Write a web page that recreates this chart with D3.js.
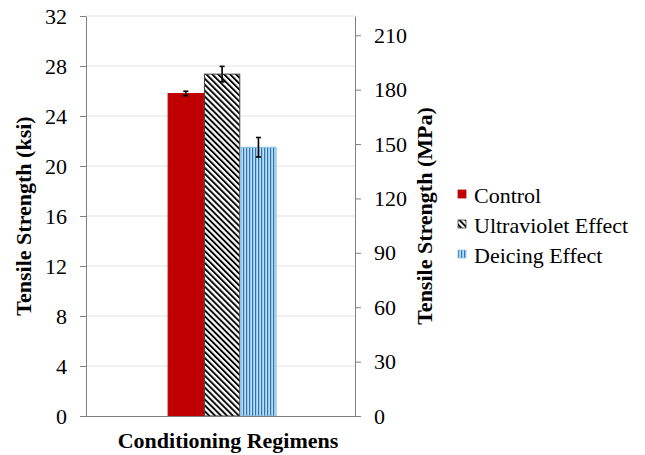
<!DOCTYPE html>
<html><head><meta charset="utf-8">
<script src="https://cdn.jsdelivr.net/npm/d3@7"></script>
<style>body{margin:0;background:#fff}svg{display:block}</style>
</head><body>
<script>
const categories = ["Conditioning Regimens"];
const series = ["Control", "Ultraviolet Effect", "Deicing Effect"];
const values = [25.8, 27.35, 21.5];
const errors = [0.18, 0.62, 0.78];
const leftTicks = [0, 4, 8, 12, 16, 20, 24, 28, 32];
const rightTicks = [0, 30, 60, 90, 120, 150, 180, 210];
const ksiToMpa = 6.89476;

const W = 645, H = 455;
const m = {left: 86, right: 355, top: 16, bottom: 416};
const svg = d3.select("body").append("svg").attr("width", W).attr("height", H);
const defs = svg.append("defs");

const hatch = defs.append("pattern").attr("id", "hatch").attr("patternUnits", "userSpaceOnUse")
  .attr("width", 4.2).attr("height", 4.2).attr("patternTransform", "rotate(-45)");
hatch.append("rect").attr("width", 4.2).attr("height", 4.2).attr("fill", "#fff");
hatch.append("rect").attr("width", 1.9).attr("height", 4.2).attr("fill", "#000");

const vert = defs.append("pattern").attr("id", "vert").attr("patternUnits", "userSpaceOnUse")
  .attr("width", 3).attr("height", 3);
vert.append("rect").attr("width", 3).attr("height", 3).attr("fill", "#bcdcf3");
vert.append("rect").attr("width", 1.2).attr("height", 3).attr("fill", "#2a76b8");

const fills = ["#c00000", "url(#hatch)", "url(#vert)"];
const strokes = ["#c00000", "#404040", "#8cc3ea"];

const y = d3.scaleLinear().domain([0, 32]).range([m.bottom, m.top]);
const y2 = d3.scaleLinear().domain([0, 32 * ksiToMpa]).range([m.bottom, m.top]);
const x0 = d3.scaleBand().domain(categories).range([m.left, m.right]).paddingInner(0).paddingOuter(0.734).align(0.51);
const x1 = d3.scaleBand().domain(series).range([0, x0.bandwidth()]).padding(0);

// gridlines
svg.append("g").selectAll("line").data(leftTicks.slice(1)).join("line")
  .attr("x1", m.left).attr("x2", m.right).attr("y1", d => y(d)).attr("y2", d => y(d))
  .attr("stroke", "#e3e3e3").attr("stroke-width", 1);

// bars
const g = svg.append("g");
series.forEach((s, i) => {
  const bx = x0(categories[0]) + x1(s);
  g.append("rect").attr("x", bx + 0.5).attr("y", y(values[i]))
    .attr("width", x1.bandwidth() - 1).attr("height", y(0) - y(values[i]))
    .attr("fill", fills[i]).attr("stroke", strokes[i]).attr("stroke-width", 1);
  const cx = bx + x1.bandwidth() / 2;
  const eb = g.append("g").attr("stroke", "#000").attr("stroke-width", 1.6);
  eb.append("line").attr("x1", cx).attr("x2", cx).attr("y1", y(values[i] + errors[i])).attr("y2", y(values[i] - errors[i]));
  eb.append("line").attr("x1", cx - 2.5).attr("x2", cx + 2.5).attr("y1", y(values[i] + errors[i])).attr("y2", y(values[i] + errors[i]));
  eb.append("line").attr("x1", cx - 2.5).attr("x2", cx + 2.5).attr("y1", y(values[i] - errors[i])).attr("y2", y(values[i] - errors[i]));
});

const font = "'Liberation Serif', Tinos, 'DejaVu Serif', 'Noto Serif', Times, serif";
const fs = 22;
// left axis
const la = svg.append("g").attr("transform", `translate(${m.left},0)`)
  .call(d3.axisLeft(y).tickValues(leftTicks).tickSize(6).tickPadding(13).tickSizeOuter(0));
// right axis
const ra = svg.append("g").attr("transform", `translate(${m.right},0)`)
  .call(d3.axisRight(y2).tickValues(rightTicks).tickSize(6).tickPadding(13).tickSizeOuter(0));
[la, ra].forEach(a => {
  a.attr("font-family", font).attr("font-size", fs);
  a.select(".domain").attr("stroke", "#808080");
  a.selectAll(".tick line").attr("stroke", "#808080");
  a.selectAll("text").attr("fill", "#000");
});
// bottom axis line
svg.append("line").attr("x1", 80).attr("x2", 361).attr("y1", y(0) + 0.5).attr("y2", y(0) + 0.5)
  .attr("stroke", "#808080").attr("stroke-width", 1);

// titles
svg.append("text").attr("transform", `translate(31,${(m.top + m.bottom) / 2}) rotate(-90)`)
  .attr("text-anchor", "middle").attr("font-family", font).attr("font-weight", "bold").attr("font-size", fs)
  .text("Tensile Strength (ksi)");
svg.append("text").attr("transform", `translate(432,${(m.top + m.bottom) / 2}) rotate(-90)`)
  .attr("text-anchor", "middle").attr("font-family", font).attr("font-weight", "bold").attr("font-size", fs)
  .text("Tensile Strength (MPa)");
svg.append("text").attr("x", 228).attr("y", 448)
  .attr("text-anchor", "middle").attr("font-family", font).attr("font-weight", "bold").attr("font-size", fs)
  .text(categories[0]);

// legend
const lg = svg.append("g").attr("transform", "translate(458,190)");
series.forEach((s, i) => {
  const row = lg.append("g").attr("transform", `translate(0,${i * 30})`);
  row.append("rect").attr("x", 0).attr("y", 0).attr("width", 8).attr("height", 8)
    .attr("fill", fills[i]).attr("stroke", strokes[i]).attr("stroke-width", 0.8);
  row.append("text").attr("x", 16).attr("y", 13).attr("font-family", font).attr("font-size", fs)
    .attr("fill", "#000").text(s);
});
</script>
</body></html>
